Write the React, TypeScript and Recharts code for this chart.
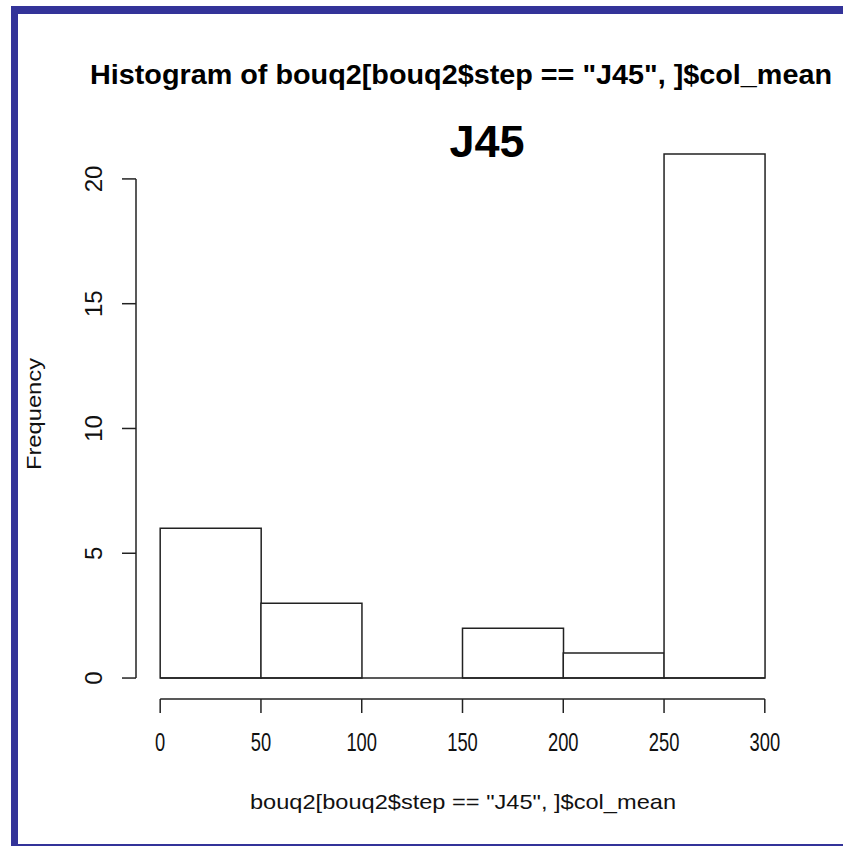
import React from "react"
import {
  ComposedChart,
  Bar,
  XAxis,
  YAxis,
  ReferenceLine,
} from "recharts"

const binEdges = [0, 50, 100, 150, 200, 250, 300]
const counts = [6, 3, 0, 2, 1, 21]
const xTicks = [0, 50, 100, 150, 200, 250, 300]
const yTicks = [0, 5, 10, 15, 20]

const mainTitle = 'Histogram of bouq2[bouq2$step == "J45", ]$col_mean'
const subTitle = "J45"
const xLabel = 'bouq2[bouq2$step == "J45", ]$col_mean'
const yLabel = "Frequency"

const data = counts.map((count, i) => ({
  mid: (binEdges[i] + binEdges[i + 1]) / 2,
  count,
}))

const FONT = '"Liberation Sans", Arial, sans-serif'
const INK = "#222"
const BORDER = "#333399"

function XTick({ x, y, payload }: { x?: number; y?: number; payload?: any }) {
  const label = String(payload?.value ?? "")
  return (
    <text
      x={x}
      y={(y ?? 0) + 36}
      textAnchor="middle"
      fontFamily={FONT}
      fontSize={25}
      fill="#111"
      textLength={label.length * 10.2}
      lengthAdjust="spacingAndGlyphs"
    >
      {label}
    </text>
  )
}

function YTick({ y, payload }: { x?: number; y?: number; payload?: any }) {
  const cx = 102
  return (
    <text
      x={cx}
      y={y}
      transform={`rotate(-90, ${cx}, ${y})`}
      textAnchor="middle"
      fontFamily={FONT}
      fontSize={24}
      fill="#111"
    >
      {payload?.value}
    </text>
  )
}

export default function App() {
  return (
    <div
      style={{
        position: "absolute",
        left: 0,
        top: 0,
        width: 843,
        height: 846,
        background: "#fff",
        overflow: "hidden",
      }}
    >
      <ComposedChart
        width={843}
        height={846}
        data={data}
        barCategoryGap={0}
        margin={{ top: 133, right: 54, bottom: 87, left: 76 }}
      >
        <XAxis
          dataKey="mid"
          type="number"
          domain={[-12, 312]}
          ticks={xTicks}
          allowDataOverflow
          axisLine={false}
          tickLine={{ stroke: INK, strokeWidth: 1.5 }}
          tickSize={14}
          height={60}
          tick={(p: any) => <XTick {...p} />}
        />
        <YAxis
          type="number"
          domain={[-0.84, 21.84]}
          ticks={yTicks}
          allowDataOverflow
          axisLine={false}
          tickLine={{ stroke: INK, strokeWidth: 1.5 }}
          tickSize={14}
          width={60}
          tick={(p: any) => <YTick {...p} />}
        />
        <ReferenceLine
          segment={[{ x: 0, y: -0.84 }, { x: 300, y: -0.84 }]}
          stroke={INK}
          strokeWidth={1.5}
          ifOverflow="visible"
        />
        <ReferenceLine
          segment={[{ x: -12, y: 0 }, { x: -12, y: 20 }]}
          stroke={INK}
          strokeWidth={1.5}
          ifOverflow="visible"
        />
        <ReferenceLine
          segment={[{ x: 0, y: 0 }, { x: 300, y: 0 }]}
          stroke={INK}
          strokeWidth={1.5}
          ifOverflow="visible"
        />
        <Bar
          dataKey="count"
          fill="#fff"
          stroke={INK}
          strokeWidth={1.5}
          isAnimationActive={false}
        />
        <text
          x={461}
          y={84}
          textAnchor="middle"
          fontFamily={FONT}
          fontWeight="bold"
          fontSize={28}
          fill="#000"
          textLength={742}
          lengthAdjust="spacingAndGlyphs"
        >
          {mainTitle}
        </text>
        <text
          x={487}
          y={157}
          textAnchor="middle"
          fontFamily={FONT}
          fontWeight="bold"
          fontSize={45}
          fill="#000"
        >
          {subTitle}
        </text>
        <text
          x={463}
          y={809}
          textAnchor="middle"
          fontFamily={FONT}
          fontSize={21}
          fill="#111"
          textLength={426}
          lengthAdjust="spacingAndGlyphs"
        >
          {xLabel}
        </text>
        <text
          x={41}
          y={414}
          transform="rotate(-90, 41, 414)"
          textAnchor="middle"
          fontFamily={FONT}
          fontSize={20}
          fill="#111"
          textLength={112}
          lengthAdjust="spacingAndGlyphs"
        >
          {yLabel}
        </text>
      </ComposedChart>
      <div style={{ position: "absolute", left: 11, top: 6, width: 7, height: 840, background: BORDER }} />
      <div style={{ position: "absolute", left: 11, top: 6, width: 832, height: 8, background: BORDER }} />
      <div style={{ position: "absolute", left: 11, top: 844, width: 832, height: 2, background: BORDER }} />
    </div>
  )
}
